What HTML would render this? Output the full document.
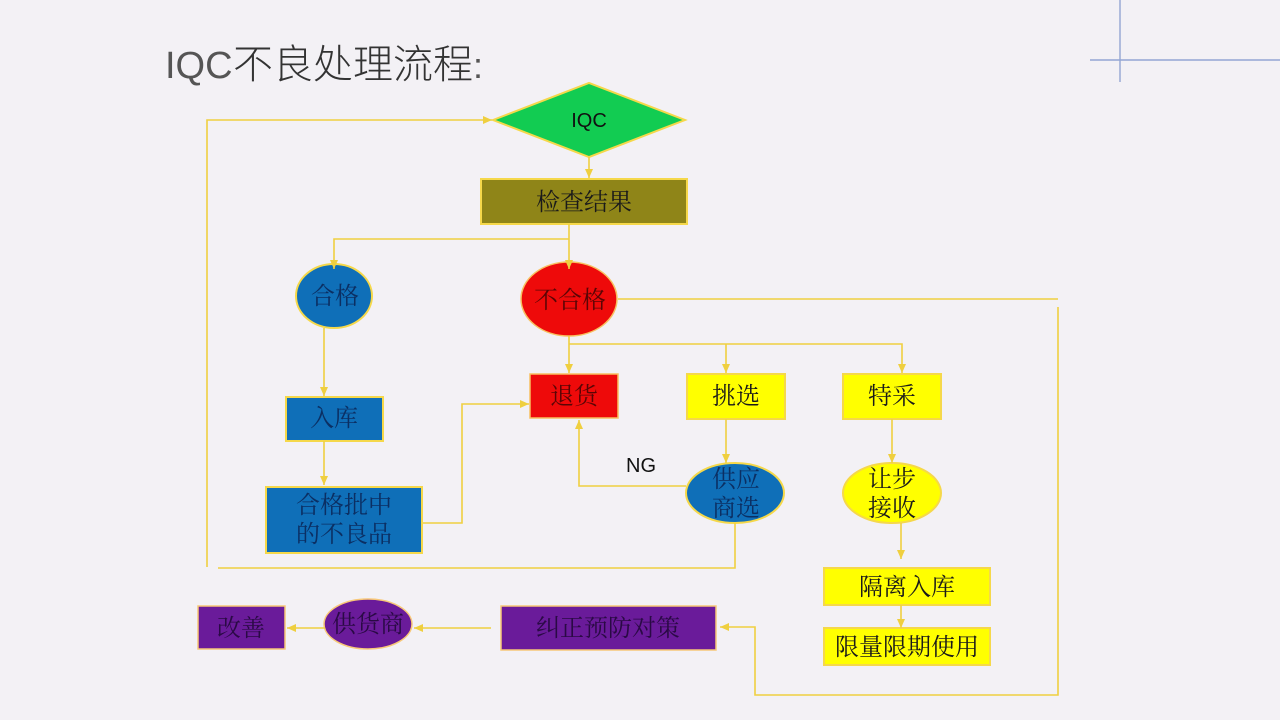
<!DOCTYPE html>
<html lang="zh-CN"><head><meta charset="utf-8"><style>
html,body{margin:0;padding:0;background:#f3f1f5;width:1280px;height:720px;overflow:hidden}
svg{display:block}
.n{font-family:"Noto Serif CJK SC","Noto Serif CJK JP","Noto Serif CJK TC","Liberation Serif",serif;font-size:24px;font-weight:400;fill:#1a1a1a;text-anchor:middle}
.l{fill:none;stroke:#f0d040;stroke-width:1.6}
.s{stroke:#f5d84a;stroke-width:2}
</style></head><body>
<svg width="1280" height="720" viewBox="0 0 1280 720" xmlns="http://www.w3.org/2000/svg" lang="zh-CN">
<defs><marker id="a" markerUnits="userSpaceOnUse" markerWidth="11" markerHeight="10" refX="9" refY="4.5" orient="auto"><path d="M0,0.5L9,4.5L0,8.5Z" fill="#efcf3f"/></marker></defs>
<rect width="1280" height="720" fill="#f3f1f5"/>
<path d="M1120,0V82M1090,60H1280" fill="none" stroke="#93a6d3" stroke-width="1.4"/>
<text x="165" y="78" font-family="'Liberation Sans','Noto Sans CJK SC',sans-serif" font-weight="300" font-size="40" fill="#333"><tspan font-size="38" fill="#555">IQC</tspan><tspan x="233">不良处理流程</tspan><tspan font-size="36" fill="#555">:</tspan></text>

<polygon class="s" points="493,120 589,83 685,120 589,157" fill="#12cc52"/>
<rect class="s" x="481" y="179" width="206" height="45" fill="#8f8518"/>
<ellipse class="s" cx="334" cy="296" rx="38" ry="32" fill="#0f6fb8"/>
<ellipse cx="569" cy="299" rx="48" ry="37" fill="#ee0a0a" stroke="#f8c060" stroke-width="1.5"/>
<rect x="530" y="374" width="88" height="44" fill="#ee0a0a" stroke="#f8c060" stroke-width="1.5"/>
<rect class="s" x="687" y="374" width="98" height="45" fill="#ffff00"/>
<rect class="s" x="843" y="374" width="98" height="45" fill="#ffff00"/>
<rect class="s" x="286" y="397" width="97" height="44" fill="#0f6fb8"/>
<rect class="s" x="266" y="487" width="156" height="66" fill="#0f6fb8"/>
<ellipse class="s" cx="735" cy="493" rx="49" ry="30" fill="#0f6fb8"/>
<ellipse class="s" cx="892" cy="493" rx="49" ry="30" fill="#ffff00"/>
<rect class="s" x="824" y="568" width="166" height="37" fill="#ffff00"/>
<rect class="s" x="824" y="628" width="166" height="37" fill="#ffff00"/>
<rect x="501" y="606" width="215" height="44" fill="#6a1b9a" stroke="#f8c878" stroke-width="1.5"/>
<ellipse cx="368" cy="624" rx="44" ry="25" fill="#6a1b9a" stroke="#f8c878" stroke-width="1.5"/>
<rect x="198" y="606" width="87" height="43" fill="#6a1b9a" stroke="#f8c878" stroke-width="1.5"/>

<path class="l" d="M589,157V178" marker-end="url(#a)"/>
<path class="l" d="M569,224V269" marker-end="url(#a)"/>
<path class="l" d="M569,239H334V269" marker-end="url(#a)"/>
<path class="l" d="M618,299H1058"/>
<path class="l" d="M1058,307V695H755V627H720" marker-end="url(#a)"/>
<path class="l" d="M569,336V373" marker-end="url(#a)"/>
<path class="l" d="M569,344H902V373" marker-end="url(#a)"/>
<path class="l" d="M726,344V373" marker-end="url(#a)"/>
<path class="l" d="M324,328V396" marker-end="url(#a)"/>
<path class="l" d="M324,441V485" marker-end="url(#a)"/>
<path class="l" d="M423,523H462V404H529" marker-end="url(#a)"/>
<path class="l" d="M726,419V463" marker-end="url(#a)"/>
<path class="l" d="M686,486H579V420" marker-end="url(#a)"/>
<path class="l" d="M735,523V568H218"/>
<path class="l" d="M207,567V120H492" marker-end="url(#a)"/>
<path class="l" d="M892,419V463" marker-end="url(#a)"/>
<path class="l" d="M901,523V559" marker-end="url(#a)"/>
<path class="l" d="M901,605V628" marker-end="url(#a)"/>
<path class="l" d="M491,628H414" marker-end="url(#a)"/>
<path class="l" d="M325,628H287" marker-end="url(#a)"/>

<text x="589" y="127" font-family="'Liberation Sans',sans-serif" font-size="20" text-anchor="middle" fill="#111">IQC</text>
<text x="641" y="472" font-family="'Liberation Sans',sans-serif" font-size="20" text-anchor="middle" fill="#111">NG</text>
<text class="n" x="584" y="210">检查结果</text>
<text class="n" x="335" y="304" style="fill:#0b2f63">合格</text>
<text class="n" x="570" y="308" style="fill:#5a0505">不合格</text>
<text class="n" x="574" y="404" style="fill:#5a0505">退货</text>
<text class="n" x="736" y="404">挑选</text>
<text class="n" x="892" y="404">特采</text>
<text class="n" x="334" y="426" style="fill:#0b2f63">入库</text>
<text class="n" x="344" y="513" style="fill:#0b2f63">合格批中</text>
<text class="n" x="344" y="542" style="fill:#0b2f63">的不良品</text>
<text class="n" x="736" y="487" style="fill:#0b2f63">供应</text>
<text class="n" x="736" y="516" style="fill:#0b2f63">商选</text>
<text class="n" x="892" y="487">让步</text>
<text class="n" x="892" y="516">接收</text>
<text class="n" x="907" y="595">隔离入库</text>
<text class="n" x="907" y="655">限量限期使用</text>
<text class="n" x="608" y="636" style="fill:#2a0a45">纠正预防对策</text>
<text class="n" x="368" y="632" style="fill:#2a0a45">供货商</text>
<text class="n" x="241" y="636" style="fill:#2a0a45">改善</text>
</svg>
</body></html>
